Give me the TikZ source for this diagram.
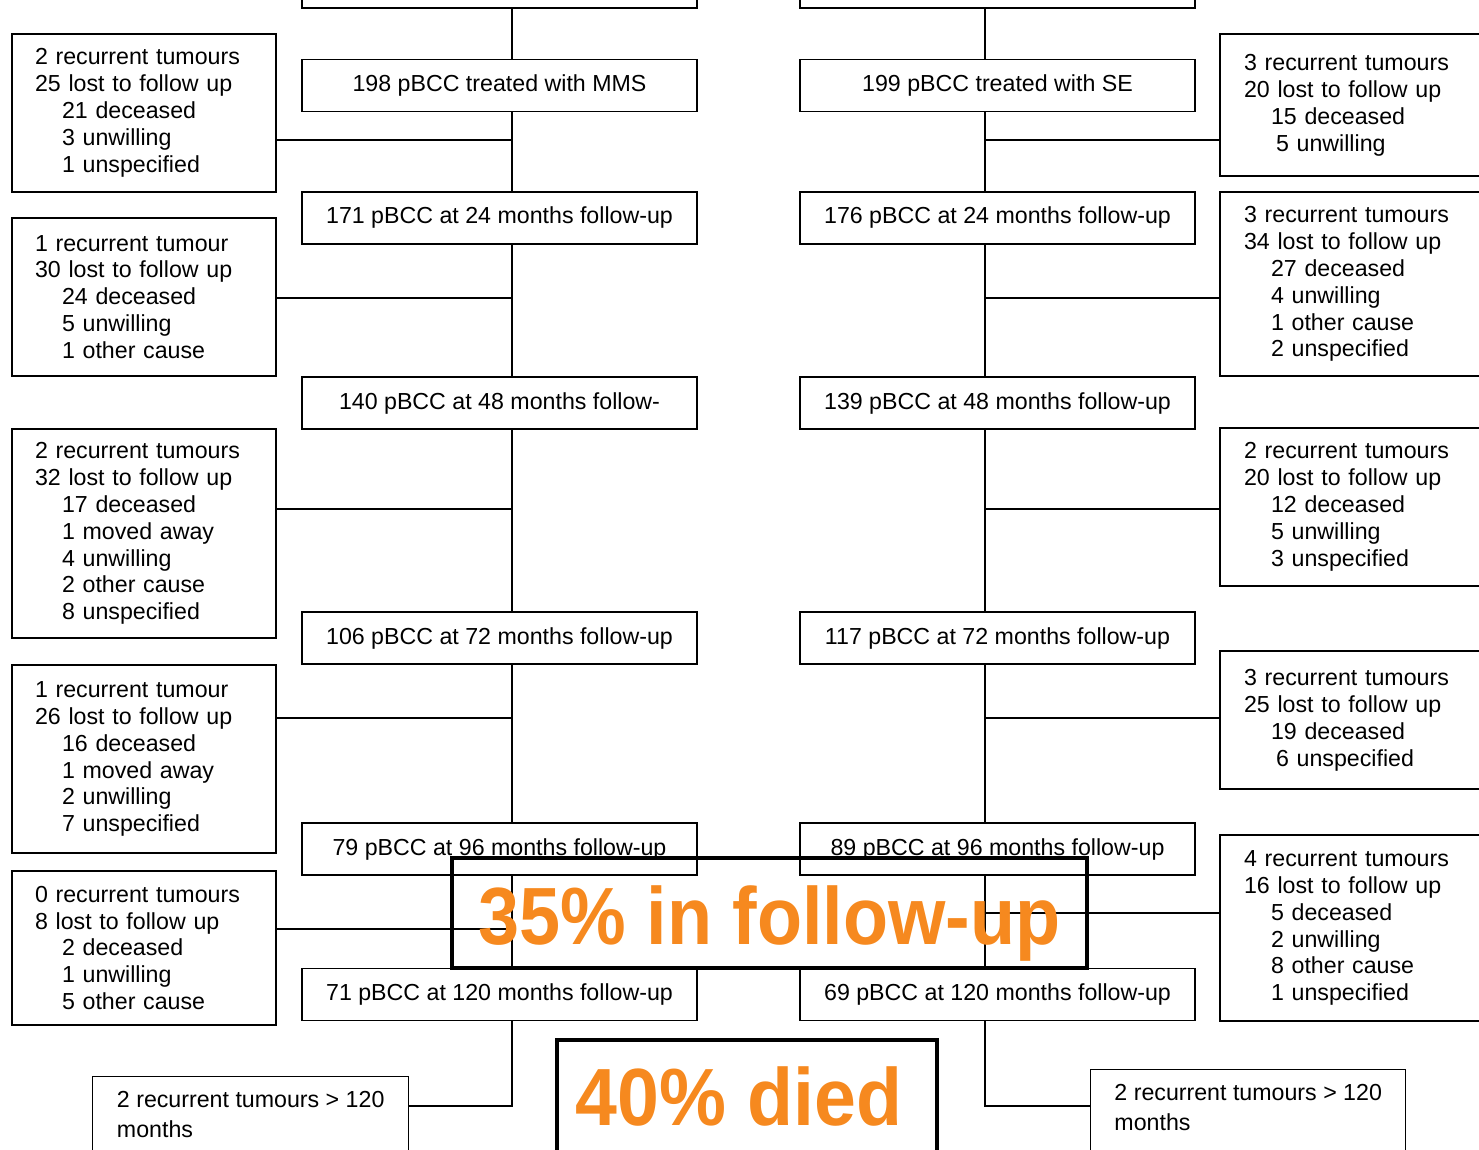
\documentclass[tikz,border=0pt]{standalone}
\usepackage{fontspec}
\setmainfont{Liberation Sans}
\usetikzlibrary{positioning}
\usepackage{xcolor}
\definecolor{pctorange}{RGB}{246,137,31}
\newlength\pxu
\setlength\pxu{0.02cm}
\newcommand\indt{\hspace*{27\pxu}}
\tikzstyle{stage} = [rectangle, draw=black, line width=0.8pt, minimum width=395\pxu, minimum height=52\pxu, text centered, font=\fontsize{13.2}{15.3}\selectfont]
\tikzstyle{loss} = [rectangle, draw=black, line width=0.8pt, align=left, text width=218\pxu, inner xsep=23\pxu, inner ysep=10\pxu, font=\fontsize{13.2}{15.3}\selectfont]
\tikzstyle{lossr} = [loss, text width=252\pxu, inner xsep=24\pxu]
\tikzstyle{late} = [rectangle, draw=black, line width=0.8pt, align=left, minimum width=316\pxu, inner ysep=15\pxu, anchor=north west, font=\fontsize{13.2}{15.3}\selectfont]
\tikzstyle{stat} = [rectangle, draw=black, line width=1.8pt, inner sep=0pt, text depth=10\pxu, text=pctorange, font=\fontsize{42}{48}\selectfont\bfseries]
\tikzstyle{link} = [line width=0.7pt]

\begin{document}
\begin{tikzpicture}[x=0.02cm, y=-0.02cm]
    \useasboundingbox (0,0) rectangle (1479,1149);
    \clip (0,0) rectangle (1479,1149);

    % Trunk columns
    \coordinate (tl) at (512,0);
    \coordinate (tr) at (985,0);

    % MMS arm
    \node (c0) [stage, minimum height=56\pxu] at (499.5,-20) {};
    \node (c1) [stage] at (499.5,85.5) {198 pBCC treated with MMS};
    \node (c2) [stage] at (499.5,218) {171 pBCC at 24 months follow-up};
    \node (c3) [stage] at (499.5,403) {140 pBCC at 48 months follow-};
    \node (c4) [stage] at (499.5,638) {106 pBCC at 72 months follow-up};
    \node (c5) [stage] at (499.5,849) {79 pBCC at 96 months follow-up};
    \node (c6) [stage] at (499.5,994.5) {71 pBCC at 120 months follow-up};

    % SE arm
    \node (d0) [stage, minimum height=56\pxu] at (997.5,-20) {};
    \node (d1) [stage] at (997.5,85.5) {199 pBCC treated with SE};
    \node (d2) [stage] at (997.5,218) {176 pBCC at 24 months follow-up};
    \node (d3) [stage] at (997.5,403) {139 pBCC at 48 months follow-up};
    \node (d4) [stage] at (997.5,638) {117 pBCC at 72 months follow-up};
    \node (d5) [stage] at (997.5,849) {89 pBCC at 96 months follow-up};
    \node (d6) [stage] at (997.5,994.5) {69 pBCC at 120 months follow-up};

    % Losses MMS
    \node (l1) [loss, minimum height=158\pxu] at (144,113) {2 recurrent tumours\\25 lost to follow up\\\indt 21 deceased\\\indt 3 unwilling\\\indt 1 unspecified};
    \node (l2) [loss, minimum height=158\pxu] at (144,297) {1 recurrent tumour\\30 lost to follow up\\\indt 24 deceased\\\indt 5 unwilling\\\indt 1 other cause};
    \node (l3) [loss, minimum height=209\pxu] at (144,533.5) {2 recurrent tumours\\32 lost to follow up\\\indt 17 deceased\\\indt 1 moved away\\\indt 4 unwilling\\\indt 2 other cause\\\indt 8 unspecified};
    \node (l4) [loss, minimum height=188\pxu] at (144,759) {1 recurrent tumour\\26 lost to follow up\\\indt 16 deceased\\\indt 1 moved away\\\indt 2 unwilling\\\indt 7 unspecified};
    \node (l5) [loss, minimum height=154\pxu] at (144,948) {0 recurrent tumours\\8 lost to follow up\\\indt 2 deceased\\\indt 1 unwilling\\\indt 5 other cause};
    \node (l6) [late] at (92,1076) {2 recurrent tumours > 120\\[3\pxu]months\\ \mbox{}};

    % Losses SE
    \node (r1) [lossr, minimum height=142\pxu] at (1370,105) {3 recurrent tumours\\20 lost to follow up\\\indt 15 deceased\\\hspace*{32\pxu}5 unwilling};
    \node (r2) [lossr, minimum height=184\pxu] at (1370,284) {3 recurrent tumours\\34 lost to follow up\\\indt 27 deceased\\\indt 4 unwilling\\\indt 1 other cause\\\indt 2 unspecified};
    \node (r3) [lossr, minimum height=158\pxu] at (1370,507) {2 recurrent tumours\\20 lost to follow up\\\indt 12 deceased\\\indt 5 unwilling\\\indt 3 unspecified};
    \node (r4) [lossr, minimum height=138\pxu] at (1370,720) {3 recurrent tumours\\25 lost to follow up\\\indt 19 deceased\\\hspace*{32\pxu}6 unspecified};
    \node (r5) [lossr, minimum height=186\pxu] at (1370,928) {4 recurrent tumours\\16 lost to follow up\\\indt 5 deceased\\\indt 2 unwilling\\\indt 8 other cause\\\indt 1 unspecified};
    \node (r6) [late, minimum width=315\pxu] at (1090,1069) {2 recurrent tumours > 120\\[3\pxu]months\\ \mbox{}};

    % Trunks
    \foreach \a/\b in {c0/c1, c1/c2, c2/c3, c3/c4, c4/c5, c5/c6}
        \draw [link] (\a.south -| tl) -- (\b.north -| tl);
    \foreach \a/\b in {d0/d1, d1/d2, d2/d3, d3/d4, d4/d5, d5/d6}
        \draw [link] (\a.south -| tr) -- (\b.north -| tr);

    % Side branches
    \foreach \n/\y in {l1/140, l2/298, l3/509, l4/718, l5/929} {
        \coordinate (j) at (512,\y);
        \draw [link] (\n.east |- j) -- (j);
    }
    \foreach \n/\y in {r1/140, r2/298, r3/509, r4/718, r5/913} {
        \coordinate (j) at (985,\y);
        \draw [link] (j) -- (\n.west |- j);
    }
    \coordinate (jl6) at (512,1106);
    \coordinate (jr6) at (985,1106);
    \draw [link] (c6.south -| tl) -- (jl6) -- (l6.north east |- jl6);
    \draw [link] (d6.south -| tr) -- (jr6) -- (r6.north west |- jr6);

    % Highlights
    \node (follow) [stat, text height=72\pxu, minimum width=635\pxu, minimum height=110\pxu] at (769.5,913) {\scalebox{1}[1.1]{35\% in follow-up}};
    \node (died) [stat, text height=50\pxu, minimum width=380\pxu, minimum height=130\pxu] at (747,1105) {\hspace*{-8\pxu}\scalebox{1.02}[1.1]{40\% died}\hspace*{8\pxu}};
\end{tikzpicture}
\end{document}
